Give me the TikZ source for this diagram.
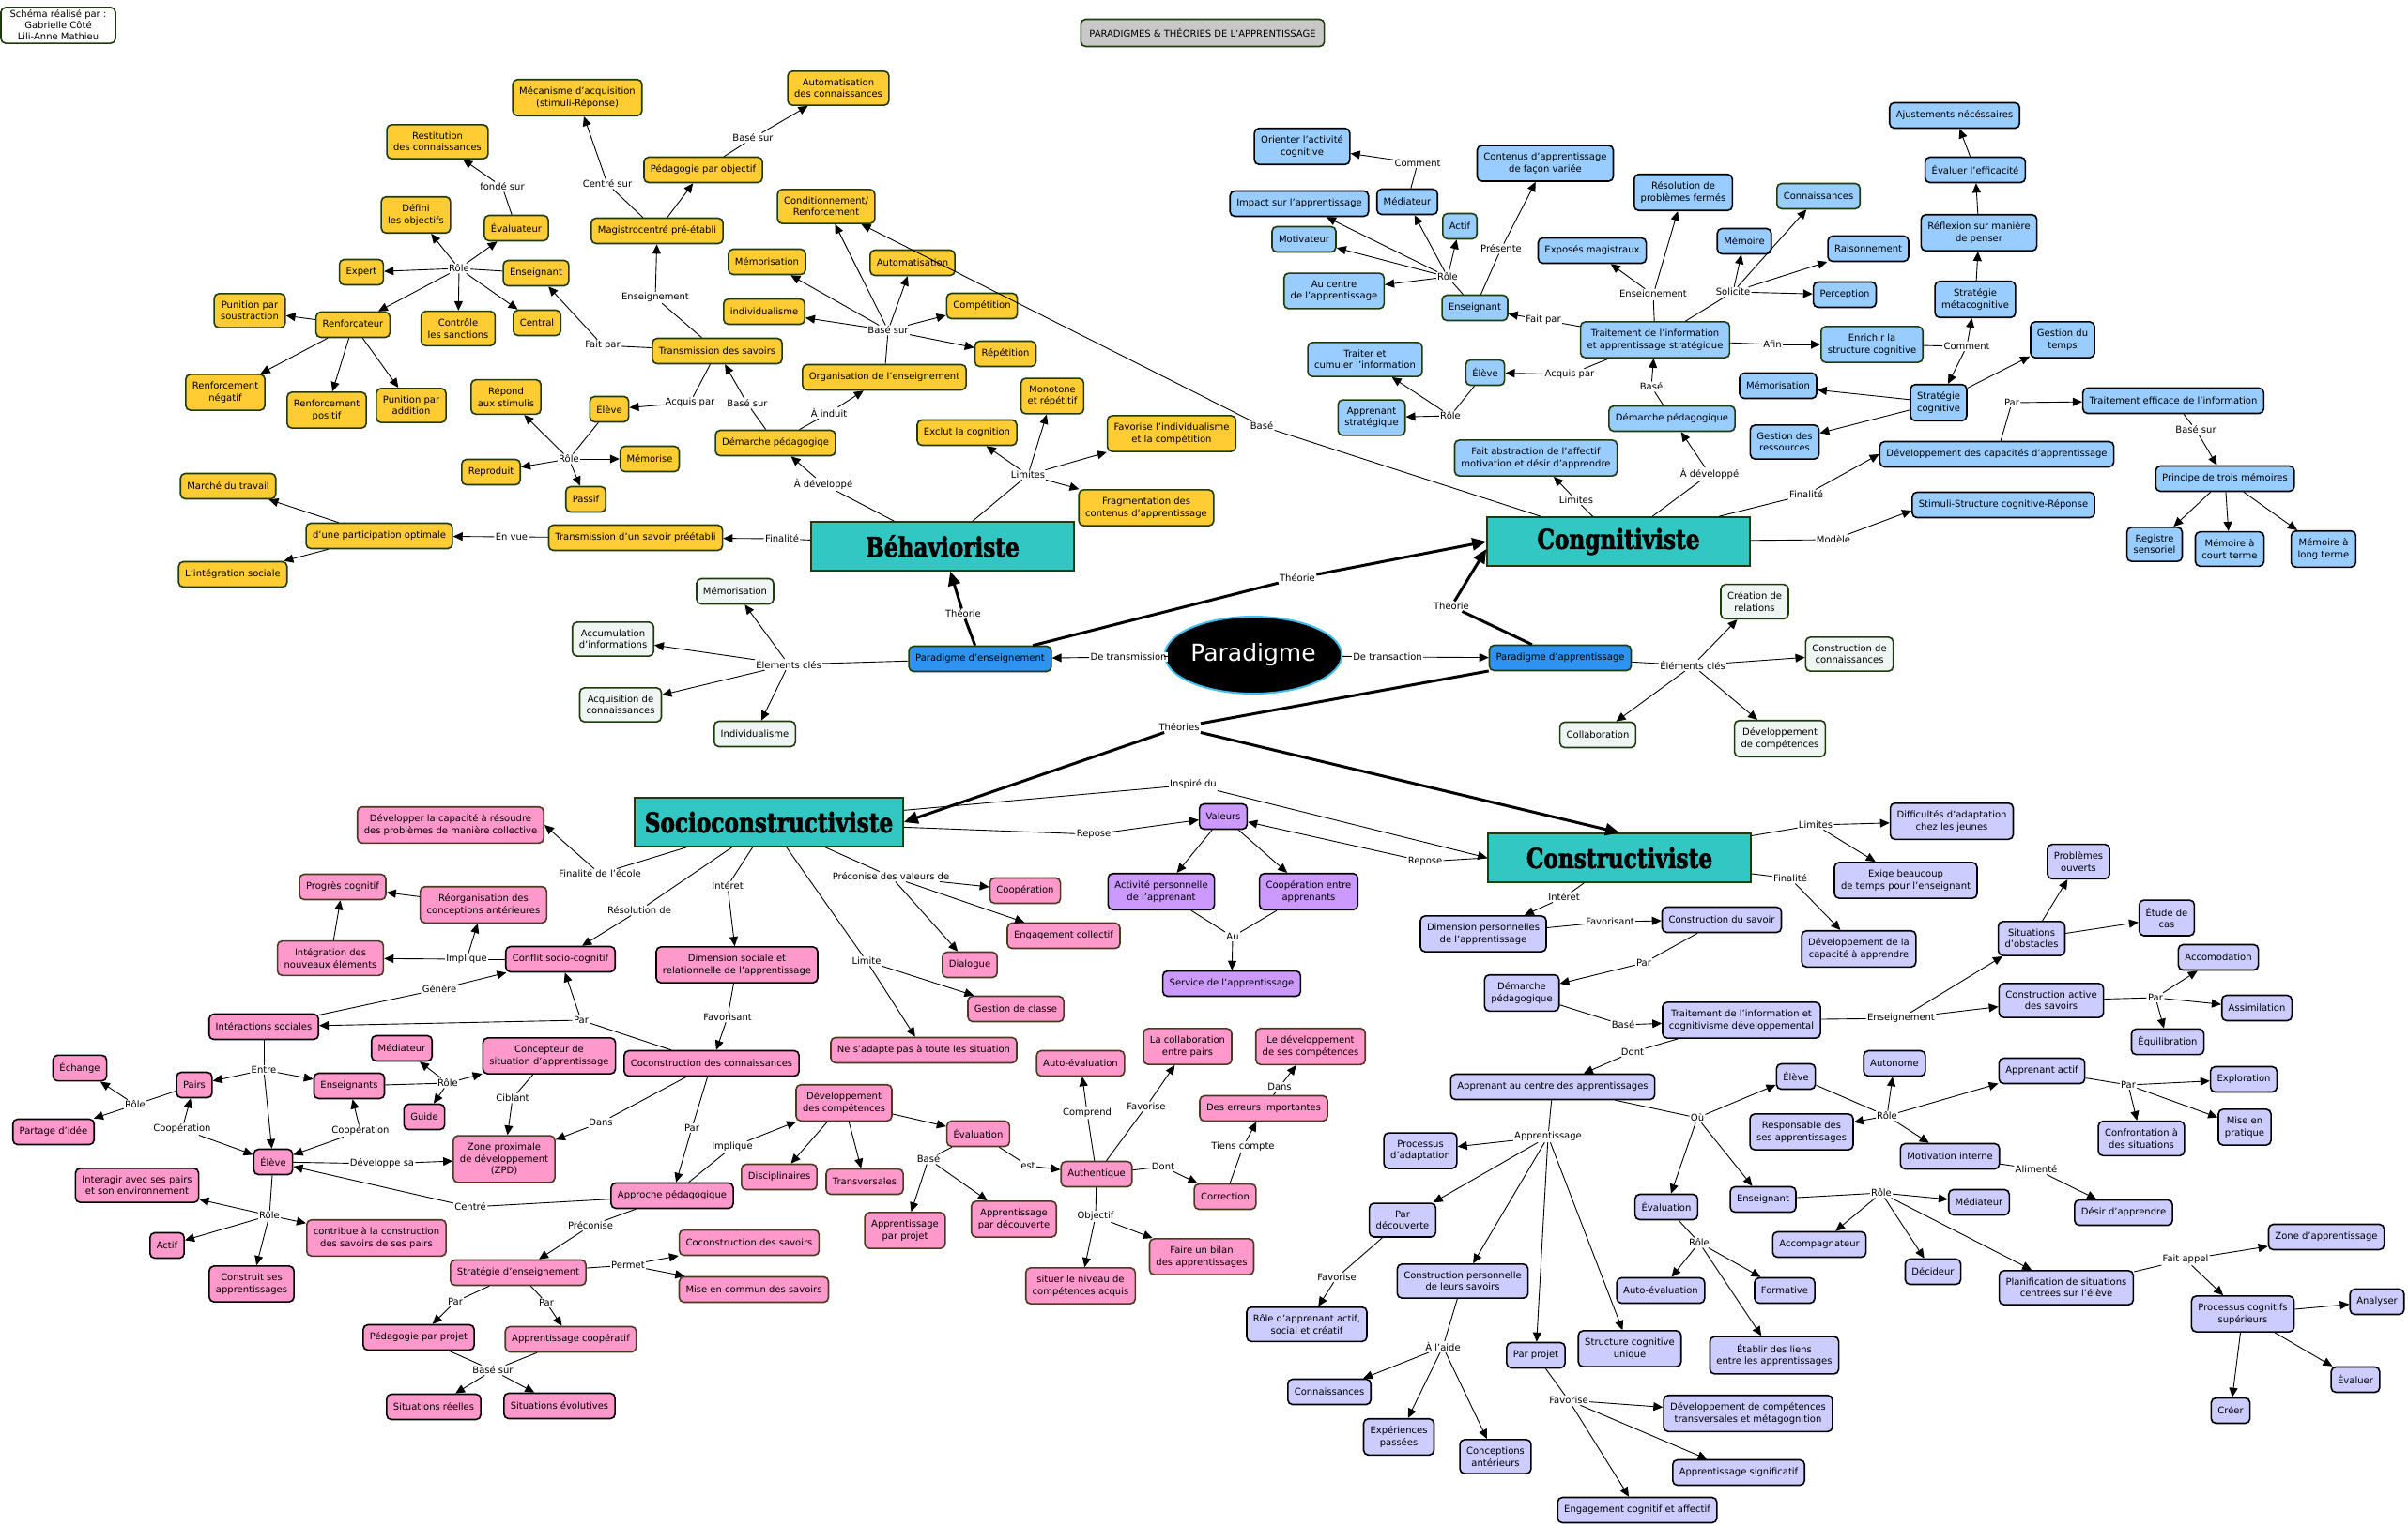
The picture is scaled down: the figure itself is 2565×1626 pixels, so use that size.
\documentclass[tikz,border=0pt]{standalone}
\usepackage{fontspec}
\usepackage{graphicx}
\setmainfont{DejaVu Sans}
\newfontfamily\tfont{DejaVu Serif}[BoldFeatures={FakeBold=2.5}]
\usetikzlibrary{arrows.meta,shapes.geometric}
\definecolor{yel}{HTML}{FFCC33}
\definecolor{dgr}{HTML}{1F3B0E}
\definecolor{lbl}{HTML}{99CCFF}
\definecolor{pnk}{HTML}{FF99CC}
\definecolor{pbr}{HTML}{4A3A22}
\definecolor{lav}{HTML}{CCCCFF}
\definecolor{pur}{HTML}{CC99FF}
\definecolor{pal}{HTML}{EEF5F2}
\definecolor{tea}{HTML}{33C7C4}
\definecolor{bltwo}{HTML}{2E93F0}
\definecolor{gry}{HTML}{C8C8C8}
\definecolor{cya}{HTML}{40BFF0}
\begin{document}
\begin{tikzpicture}[x=1pt,y=-1pt,
  bx/.style={rounded corners=5pt, draw, line width=1.6pt, align=center, inner xsep=7pt, inner ysep=8pt, minimum height=27pt, font=\fontsize{10}{12.5}\selectfont},
  Y/.style={bx, fill=yel, draw=dgr},
  B/.style={bx, fill=lbl, draw=black},
  BG/.style={bx, fill=lbl, draw=dgr},
  P/.style={bx, fill=pnk, draw=pbr},
  PK/.style={bx, fill=pnk, draw=black},
  V/.style={bx, fill=lav, draw=black},
  U/.style={bx, fill=pur, draw=black},
  G/.style={bx, fill=pal, draw=dgr},
  T/.style={draw=dgr, fill=tea, line width=1.6pt, minimum width=280pt, minimum height=52pt, inner sep=0pt, font=\tfont\bfseries\fontsize{29}{32}\selectfont},
  PB/.style={bx, fill=bltwo, draw=dgr},
  lb/.style={fill=white, inner sep=1.2pt, font=\fontsize{10}{12}\selectfont},
  ln/.style={draw=black, line width=0.9pt},
  ar/.style={ln, -{Triangle[length=10pt,width=9pt]}},
  tk/.style={draw=black, line width=3pt},
  tka/.style={tk, -{Triangle[length=15pt,width=13pt]}}
]
\fill[white] (0,0) rectangle (2565,1626);
\useasboundingbox (0,0) rectangle (2565,1626);

% ---------- misc ----------
\node[bx, fill=white, draw=dgr, inner ysep=3pt, minimum width=122pt, font=\fontsize{10}{12}\selectfont] (author) at (62,27) {Schéma réalisé par :\\Gabrielle Côté\\Lili-Anne Mathieu};
\node[bx, fill=gry, draw=dgr, minimum height=29pt, inner ysep=4pt, inner xsep=9pt, font=\fontsize{10}{12}\selectfont] (title) at (1281,35) {PARADIGMES \& THÉORIES DE L'APPRENTISSAGE};

% ---------- yellow ----------
\node[Y] (mec) at (615,104) {Mécanisme d'acquisition\\(stimuli-Réponse)};
\node[Y] (autc) at (893,94) {Automatisation\\des connaissances};
\node[Y] (resti) at (466,151) {Restitution\\des connaissances};
\node[Y] (pedobj) at (749,181) {Pédagogie par objectif};
\node[Y] (defobj) at (443,229) {Défini\\les objectifs};
\node[Y] (cond) at (880,220) {Conditionnement/\\Renforcement};
\node[Y] (evalr) at (550,243) {Évaluateur};
\node[Y] (magi) at (700,246) {Magistrocentré pré-établi};
\node[Y] (ymem) at (817,279) {Mémorisation};
\node[Y] (yauto) at (972,280) {Automatisation};
\node[Y] (expert) at (385,290) {Expert};
\node[Y] (yens) at (571,291) {Enseignant};
\node[Y] (yindiv) at (814,332) {individualisme};
\node[Y] (compet) at (1046,326) {Compétition};
\node[Y] (punsou) at (266,331) {Punition par\\soustraction};
\node[Y] (renf) at (376,346) {Renforçateur};
\node[Y] (ctrl) at (488,350) {Contrôle\\les sanctions};
\node[Y] (central) at (572,344) {Central};
\node[Y] (trans) at (764,374) {Transmission des savoirs};
\node[Y] (repet) at (1071,377) {Répétition};
\node[Y] (orga) at (942,402) {Organisation de l'enseignement};
\node[Y] (rneg) at (240,418) {Renforcement\\négatif};
\node[Y] (rpos) at (348,437) {Renforcement\\positif};
\node[Y] (punadd) at (438,432) {Punition par\\addition};
\node[Y] (repond) at (539,423) {Répond\\aux stimulis};
\node[Y] (yeleve) at (649,436) {Élève};
\node[Y] (monot) at (1121,422) {Monotone\\et répétitif};
\node[Y] (exclut) at (1030,461) {Exclut la cognition};
\node[Y] (favind) at (1248,462) {Favorise l'individualisme\\et la compétition};
\node[Y] (ydem) at (826,472) {Démarche pédagogiqe};
\node[Y] (memorise) at (692,489) {Mémorise};
\node[Y] (reprod) at (523,503) {Reproduit};
\node[Y] (passif) at (624,532) {Passif};
\node[Y] (marche) at (243,518) {Marché du travail};
\node[Y] (frag) at (1221,541) {Fragmentation des\\contenus d'apprentissage};
\node[Y] (partic) at (404,571) {d'une participation optimale};
\node[Y] (transp) at (677,573) {Transmission d'un savoir préétabli};
\node[Y] (integ) at (248,612) {L'intégration sociale};

% ---------- theories ----------
\node[T] (behav) at (1004,582) {\scalebox{0.8}[1]{Béhavioriste}};
\node[T] (cogn) at (1724,577) {\scalebox{0.8}[1]{Congnitiviste}};
\node[T, minimum width=286pt] (socio) at (819,876) {\scalebox{0.8}[1]{Socioconstructiviste}};
\node[T] (cons) at (1725,914) {\scalebox{0.8}[1]{Constructiviste}};

\node[ellipse, fill=black, draw=cya, line width=2pt, minimum width=162pt, minimum height=82pt, inner sep=0pt, text=white, font=\fontsize{25}{28}\selectfont] (para) at (1335,698) {Paradigme};
\node[PB] (pens) at (1044,702) {Paradigme d'enseignement};
\node[PB] (papp) at (1662,701) {Paradigme d'apprentissage};

% ---------- grey ----------
\node[G] (gmem) at (783,630) {Mémorisation};
\node[G] (accum) at (653,681) {Accumulation\\d'informations};
\node[G] (acqui) at (661,751) {Acquisition de\\connaissances};
\node[G] (gindiv) at (804,782) {Individualisme};
\node[G] (creat) at (1869,641) {Création de\\relations};
\node[G] (constc) at (1970,697) {Construction de\\connaissances};
\node[G] (collab) at (1702,783) {Collaboration};
\node[G] (devcomp) at (1896,787) {Développement\\de compétences};

% ---------- blue ----------
\node[B] (orient) at (1387,156) {Orienter l'activité\\cognitive};
\node[B] (contenus) at (1646,174) {Contenus d'apprentissage\\de façon variée};
\node[B] (resol) at (1793,205) {Résolution de\\problèmes fermés};
\node[BG] (bconn) at (1937,209) {Connaissances};
\node[B] (impact) at (1384,217) {Impact sur l'apprentissage};
\node[B] (bmed) at (1499,215) {Médiateur};
\node[BG] (bactif) at (1555,241) {Actif};
\node[BG] (motiv) at (1389,255) {Motivateur};
\node[B] (expos) at (1696,267) {Exposés magistraux};
\node[B] (bmemoire) at (1858,257) {Mémoire};
\node[B] (raison) at (1990,265) {Raisonnement};
\node[BG] (aucentre) at (1421,310) {Au centre\\de l'apprentissage};
\node[B] (percep) at (1965,314) {Perception};
\node[BG] (bens) at (1571,328) {Enseignant};
\node[BG] (tias) at (1763,362) {Traitement de l'information\\et apprentissage stratégique};
\node[BG] (enrich) at (1994,367) {Enrichir la\\structure cognitive};
\node[BG] (traiter) at (1454,383) {Traiter et\\cumuler l'information};
\node[BG] (beleve) at (1582,397) {Élève};
\node[B] (bmemor) at (1894,411) {Mémorisation};
\node[BG] (bdem) at (1781,446) {Démarche pédagogique};
\node[BG] (appstrat) at (1461,445) {Apprenant\\stratégique};
\node[B] (gestres) at (1901,471) {Gestion des\\ressources};
\node[BG] (abstr) at (1636,488) {Fait abstraction de l'affectif\\motivation et désir d'apprendre};
\node[B] (ajust) at (2082,123) {Ajustements nécéssaires};
\node[B] (evalef) at (2104,181) {Évaluer l'efficacité};
\node[B] (reflex) at (2108,248) {Réflexion sur manière\\de penser};
\node[B] (stratmeta) at (2104,319) {Stratégie\\métacognitive};
\node[B] (gesttemps) at (2197,362) {Gestion du\\temps};
\node[B] (stratcog) at (2065,429) {Stratégie\\cognitive};
\node[B] (traiteff) at (2315,427) {Traitement efficace de l'information};
\node[B] (devcap) at (2127,484) {Développement des capacités d'apprentissage};
\node[B] (princ) at (2370,510) {Principe de trois mémoires};
\node[B] (stimuli) at (2134,538) {Stimuli-Structure cognitive-Réponse};
\node[B] (regsens) at (2295,580) {Registre\\sensoriel};
\node[B] (memct) at (2375,585) {Mémoire à\\court terme};
\node[B] (memlt) at (2475,585) {Mémoire à\\long terme};

% ---------- lavender ----------
\node[V] (diffic) at (2079,875) {Difficultés d'adaptation\\chez les jeunes};
\node[V] (exige) at (2030,938) {Exige beaucoup\\de temps pour l'enseignant};
\node[V] (probouv) at (2214,918) {Problèmes\\ouverts};
\node[V] (etude) at (2308,978) {Étude de\\cas};
\node[V] (dimpers) at (1580,995) {Dimension personnelles\\de l'apprentissage};
\node[V] (constsav) at (1834,980) {Construction du savoir};
\node[V] (situobs) at (2164,1000) {Situations\\d'obstacles};
\node[V] (devcapapp) at (1980,1011) {Développement de la\\capacité à apprendre};
\node[V] (accom) at (2363,1020) {Accomodation};
\node[V] (ldem) at (1621,1058) {Démarche\\pédagogique};
\node[V] (constact) at (2185,1066) {Construction active\\des savoirs};
\node[V] (assim) at (2404,1074) {Assimilation};
\node[V] (ticd) at (1855,1087) {Traitement de l'information et\\cognitivisme développemental};
\node[V] (equil) at (2309,1110) {Équilibration};
\node[V] (auton) at (2018,1133) {Autonome};
\node[V] (appactif) at (2175,1141) {Apprenant actif};
\node[V] (explor) at (2390,1150) {Exploration};
\node[V] (leleve) at (1913,1147) {Élève};
\node[V] (appcentre) at (1654,1158) {Apprenant au centre des apprentissages};
\node[V] (respons) at (1919,1206) {Responsable des\\ses apprentissages};
\node[V] (confront) at (2281,1213) {Confrontation à\\des situations};
\node[V] (mise) at (2391,1201) {Mise en\\pratique};
\node[V] (procad) at (1513,1226) {Processus\\d'adaptation};
\node[V] (motint) at (2077,1232) {Motivation interne};
\node[V] (leval) at (1775,1286) {Évaluation};
\node[V] (lens) at (1878,1278) {Enseignant};
\node[V] (lmed) at (2108,1281) {Médiateur};
\node[V] (desir) at (2262,1292) {Désir d'apprendre};
\node[V] (pardec) at (1494,1300) {Par\\découverte};
\node[V] (accomp) at (1938,1326) {Accompagnateur};
\node[V] (zoneapp) at (2478,1318) {Zone d'apprentissage};
\node[V] (decid) at (2059,1355) {Décideur};
\node[V] (planif) at (2201,1372) {Planification de situations\\centrées sur l'élève};
\node[V] (constpers) at (1558,1365) {Construction personnelle\\de leurs savoirs};
\node[V] (lautoev) at (1769,1375) {Auto-évaluation};
\node[V] (format) at (1901,1375) {Formative};
\node[V] (proccog) at (2389,1400) {Processus cognitifs\\supérieurs};
\node[V] (analys) at (2532,1387) {Analyser};
\node[V] (roleapp) at (1392,1411) {Rôle d'apprenant actif,\\social et créatif};
\node[V] (struccog) at (1736,1437) {Structure cognitive\\unique};
\node[V] (etablir) at (1890,1444) {Établir des liens\\entre les apprentissages};
\node[V] (parproj) at (1636,1444) {Par projet};
\node[V] (evaluer) at (2509,1470) {Évaluer};
\node[V] (lconn) at (1416,1483) {Connaissances};
\node[V] (creer) at (2376,1503) {Créer};
\node[V] (devtrans) at (1862,1506) {Développement de compétences\\transversales et métagognition};
\node[V] (expe) at (1490,1531) {Expériences\\passées};
\node[V] (concant) at (1593,1552) {Conceptions\\antérieurs};
\node[V] (appsig) at (1852,1569) {Apprentissage significatif};
\node[V] (engag) at (1744,1609) {Engagement cognitif et affectif};

% ---------- purple ----------
\node[U] (valeurs) at (1303,870) {Valeurs};
\node[U] (actpers) at (1237,950) {Activité personnelle\\de l'apprenant};
\node[U] (coopapp) at (1394,950) {Coopération entre\\apprenants};
\node[U] (service) at (1312,1048) {Service de l'apprentissage};

% ---------- pink ----------
\node[P] (devres) at (480,879) {Développer la capacité à résoudre\\des problèmes de manière collective};
\node[P] (progres) at (365,945) {Progrès cognitif};
\node[P] (reorg) at (515,964) {Réorganisation des\\conceptions antérieures};
\node[P] (integr) at (352,1021) {Intégration des\\nouveaux éléments};
\node[PK] (conflit) at (597,1022) {Conflit socio-cognitif};
\node[P] (pcoop) at (1092,949) {Coopération};
\node[P] (engcol) at (1133,997) {Engagement collectif};
\node[PK] (dimsoc) at (785,1028) {Dimension sociale et\\relationnelle de l'apprentissage};
\node[P] (dialog) at (1033,1028) {Dialogue};
\node[P] (gestcl) at (1082,1075) {Gestion de classe};
\node[PK] (inter) at (281,1094) {Intéractions sociales};
\node[P] (ladapt) at (984,1119) {Ne s'adapte pas à toute les situation};
\node[PK] (cocon) at (758,1133) {Coconstruction des connaissances};
\node[P] (pautoev) at (1151,1133) {Auto-évaluation};
\node[P] (collabp) at (1265,1115) {La collaboration\\entre pairs};
\node[P] (devsescomp) at (1396,1115) {Le développement\\de ses compétences};
\node[PK] (pmed) at (428,1117) {Médiateur};
\node[PK] (concep) at (585,1125) {Concepteur de\\situation d'apprentissage};
\node[PK] (echange) at (85,1138) {Échange};
\node[PK] (pairs) at (207,1156) {Pairs};
\node[PK] (pens2) at (372,1157) {Enseignants};
\node[PK] (guide) at (452,1190) {Guide};
\node[PK] (partage) at (57,1206) {Partage d'idée};
\node[P] (pdevcomp) at (899,1175) {Développement\\des compétences};
\node[P] (erreurs) at (1346,1181) {Des erreurs importantes};
\node[P] (peval) at (1042,1208) {Évaluation};
\node[PK] (peleve) at (291,1238) {Élève};
\node[P] (zpd) at (537,1235) {Zone proximale\\de développement\\(ZPD)};
\node[P] (authen) at (1168,1251) {Authentique};
\node[P] (discip) at (830,1254) {Disciplinaires};
\node[P] (transv) at (921,1259) {Transversales};
\node[PK] (interag) at (146,1263) {Interagir avec ses pairs\\et son environnement};
\node[PK] (approche) at (716,1274) {Approche pédagogique};
\node[P] (correc) at (1305,1275) {Correction};
\node[P] (appproj) at (964,1311) {Apprentissage\\par projet};
\node[P] (appdec) at (1080,1299) {Apprentissage\\par découverte};
\node[PK] (pactif) at (178,1327) {Actif};
\node[P] (contrib) at (401,1319) {contribue à la construction\\des savoirs de ses pairs};
\node[P] (bilan) at (1280,1339) {Faire un bilan\\des apprentissages};
\node[P] (strat) at (552,1356) {Stratégie d'enseignement};
\node[P] (cocsav) at (798,1324) {Coconstruction des savoirs};
\node[PK] (construit) at (268,1368) {Construit ses\\apprentissages};
\node[P] (situer) at (1151,1370) {situer le niveau de\\compétences acquis};
\node[P] (misec) at (803,1374) {Mise en commun des savoirs};
\node[PK] (pedproj) at (446,1425) {Pédagogie par projet};
\node[P] (appcoop) at (608,1427) {Apprentissage coopératif};
\node[PK] (sitreel) at (462,1499) {Situations réelles};
\node[PK] (sitevol) at (596,1498) {Situations évolutives};

% ---------- labels ----------
\node[lb] (Lfonde) at (535,199) {fondé sur};
\node[lb] (Lcentre) at (647,196) {Centré sur};
\node[lb] (Lbase1) at (802,147) {Basé sur};
\node[lb] (Lrole1) at (489,286) {Rôle};
\node[lb] (Lens1) at (698,317) {Enseignement};
\node[lb] (Lbase2) at (946,352) {Basé sur};
\node[lb] (Lfaitpar1) at (642,368) {Fait par};
\node[lb] (Lacq1) at (735,429) {Acquis par};
\node[lb] (Lbase3) at (796,430) {Basé sur};
\node[lb] (Linduit) at (883,440) {À induit};
\node[lb] (Lrole2) at (606,489) {Rôle};
\node[lb] (Llim1) at (1095,506) {Limites};
\node[lb] (Ldev1) at (877,516) {À développé};
\node[lb] (Lenvue) at (545,572) {En vue};
\node[lb] (Lfin1) at (833,574) {Finalité};
\node[lb] (Ltheo1) at (1026,654) {Théorie};
\node[lb] (Ltrans) at (1202,700) {De transmission};
\node[lb] (Lelem1) at (840,708) {Élements clés};
\node[lb] (Ltheo2) at (1382,616) {Théorie};
\node[lb] (Ltheo3) at (1546,646) {Théorie};
\node[lb] (Ltransac) at (1478,700) {De transaction};
\node[lb] (Lelem2) at (1803,709) {Éléments clés};
\node[lb] (Ltheos) at (1256,775) {Théories};
\node[lb] (Lcomment1) at (1510,174) {Comment};
\node[lb] (Lpresente) at (1599,265) {Présente};
\node[lb] (Lrole3) at (1542,295) {Rôle};
\node[lb] (Lens2) at (1761,314) {Enseignement};
\node[lb] (Lsolic) at (1846,311) {Solicite};
\node[lb] (Lfaitpar2) at (1644,341) {Fait par};
\node[lb] (Lafin) at (1888,367) {Afin};
\node[lb] (Lcomment2) at (2095,369) {Comment};
\node[lb] (Lacq2) at (1672,399) {Acquis par};
\node[lb] (Lbase4) at (1759,412) {Basé};
\node[lb] (Lrole4) at (1545,443) {Rôle};
\node[lb] (Lbase5) at (1344,454) {Basé};
\node[lb] (Ldev2) at (1821,505) {À développé};
\node[lb] (Llim2) at (1679,533) {Limites};
\node[lb] (Lfin2) at (1924,527) {Finalité};
\node[lb] (Lpar1) at (2143,429) {Par};
\node[lb] (Lbase6) at (2339,458) {Basé sur};
\node[lb] (Lmodele) at (1953,575) {Modèle};
\node[lb] (Linspire) at (1271,836) {Inspiré du};
\node[lb] (Lrepose1) at (1165,889) {Repose};
\node[lb] (Lrepose2) at (1518,918) {Repose};
\node[lb] (Lau) at (1313,998) {Au};
\node[lb] (Lfinecole) at (639,931) {Finalité de l'école};
\node[lb] (Lpreco) at (949,934) {Préconise des valeurs de};
\node[lb] (Linteret1) at (775,944) {Intéret};
\node[lb] (Lresol) at (681,970) {Résolution de};
\node[lb] (Llimite) at (923,1024) {Limite};
\node[lb] (Limplique1) at (497,1022) {Implique};
\node[lb] (Lgenere) at (468,1054) {Génére};
\node[lb] (Lfavor1) at (775,1084) {Favorisant};
\node[lb] (Lpar2) at (619,1087) {Par};
\node[lb] (Lentre) at (281,1140) {Entre};
\node[lb] (Lrole5) at (477,1154) {Rôle};
\node[lb] (Lrole6) at (144,1177) {Rôle};
\node[lb] (Lciblant) at (546,1170) {Ciblant};
\node[lb] (Ldans1) at (640,1196) {Dans};
\node[lb] (Lcoop1) at (194,1203) {Coopération};
\node[lb] (Lcoop2) at (384,1205) {Coopération};
\node[lb] (Ldevsa) at (407,1240) {Développe sa};
\node[lb] (Lcentre2) at (501,1286) {Centré};
\node[lb] (Lrole7) at (287,1295) {Rôle};
\node[lb] (Lpar3) at (737,1202) {Par};
\node[lb] (Limplique2) at (780,1222) {Implique};
\node[lb] (Lpreco2) at (629,1306) {Préconise};
\node[lb] (Lpermet) at (669,1348) {Permet};
\node[lb] (Lpar4) at (485,1387) {Par};
\node[lb] (Lpar5) at (582,1388) {Par};
\node[lb] (Lbase7) at (525,1460) {Basé sur};
\node[lb] (Lbase8) at (989,1235) {Basé};
\node[lb] (Lest) at (1095,1242) {est};
\node[lb] (Lcomprend) at (1158,1186) {Comprend};
\node[lb] (Lfavor2) at (1221,1179) {Favorise};
\node[lb] (Ldont1) at (1239,1243) {Dont};
\node[lb] (Lobjectif) at (1167,1296) {Objectif};
\node[lb] (Ltiens) at (1324,1222) {Tiens compte};
\node[lb] (Ldans2) at (1363,1158) {Dans};
\node[lb] (Llim3) at (1934,879) {Limites};
\node[lb] (Lfin3) at (1907,936) {Finalité};
\node[lb] (Linteret2) at (1666,956) {Intéret};
\node[lb] (Lfavor3) at (1715,982) {Favorisant};
\node[lb] (Lpar6) at (1751,1026) {Par};
\node[lb] (Lbase9) at (1729,1092) {Basé};
\node[lb] (Lens3) at (2025,1085) {Enseignement};
\node[lb] (Lpar7) at (2296,1063) {Par};
\node[lb] (Ldont2) at (1739,1121) {Dont};
\node[lb] (Lou) at (1808,1191) {Où};
\node[lb] (Lappr) at (1649,1211) {Apprentissage};
\node[lb] (Lrole8) at (2010,1189) {Rôle};
\node[lb] (Lpar8) at (2267,1156) {Par};
\node[lb] (Lalim) at (2169,1246) {Alimenté};
\node[lb] (Lrole9) at (2004,1271) {Rôle};
\node[lb] (Lrole10) at (1810,1324) {Rôle};
\node[lb] (Lfaitappel) at (2328,1342) {Fait appel};
\node[lb] (Lfavor4) at (1424,1361) {Favorise};
\node[lb] (Laide) at (1537,1435) {À l'aide};
\node[lb] (Lfavor5) at (1671,1492) {Favorise};

% ---------- behaviorist edges ----------
\draw[ln] (behav) -- (Ldev1); \draw[ar] (Ldev1) -- (ydem);
\draw[ln] (behav) -- (Llim1); \foreach \x in {exclut,monot,favind,frag} \draw[ar] (Llim1) -- (\x);
\draw[ln] (behav) -- (Lfin1); \draw[ar] (Lfin1) -- (transp);
\draw[ln] (transp) -- (Lenvue); \draw[ar] (Lenvue) -- (partic);
\draw[ar] (partic) -- (marche); \draw[ar] (partic) -- (integ);
\draw[ln] (ydem) -- (Lbase3); \draw[ar] (Lbase3) -- (trans);
\draw[ln] (ydem) -- (Linduit); \draw[ar] (Linduit) -- (orga);
\draw[ln] (orga) -- (Lbase2); \foreach \x in {ymem,yindiv,cond,yauto,compet,repet} \draw[ar] (Lbase2) -- (\x);
\draw[ln] (trans) -- (Lens1); \draw[ar] (Lens1) -- (magi);
\draw[ln] (trans) -- (Lacq1); \draw[ar] (Lacq1) -- (yeleve);
\draw[ln] (trans) -- (Lfaitpar1); \draw[ar] (Lfaitpar1) -- (yens);
\draw[ln] (magi) -- (Lcentre); \draw[ar] (Lcentre) -- (mec);
\draw[ar] (magi) -- (pedobj);
\draw[ln] (pedobj) -- (Lbase1); \draw[ar] (Lbase1) -- (autc);
\draw[ln] (yens) -- (Lrole1); \foreach \x in {defobj,evalr,expert,renf,ctrl,central} \draw[ar] (Lrole1) -- (\x);
\draw[ln] (evalr) -- (Lfonde); \draw[ar] (Lfonde) -- (resti);
\foreach \x in {punsou,rneg,rpos,punadd} \draw[ar] (renf) -- (\x);
\draw[ln] (yeleve) -- (Lrole2); \foreach \x in {repond,memorise,reprod,passif} \draw[ar] (Lrole2) -- (\x);

% ---------- paradigm edges ----------
\draw[ln] (para) -- (Ltrans); \draw[ar] (Ltrans) -- (pens);
\draw[ln] (para) -- (Ltransac); \draw[ar] (Ltransac) -- (papp);
\draw[tk] (pens) -- (Ltheo1); \draw[tka] (Ltheo1) -- (behav);
\draw[tk] (pens) -- (Ltheo2); \draw[tka] (Ltheo2) -- (cogn.west);
\draw[tk] (papp) -- (Ltheo3); \draw[tka] (Ltheo3) -- ([yshift=-8pt]cogn.west);
\draw[tk] (papp) -- (Ltheos); \draw[tka] (Ltheos) -- (socio.east); \draw[tka] (Ltheos) -- (cons.north);
\draw[ln] (pens) -- (Lelem1); \foreach \x in {gmem,accum,acqui,gindiv} \draw[ar] (Lelem1) -- (\x);
\draw[ln] (papp) -- (Lelem2); \foreach \x in {creat,constc,collab,devcomp} \draw[ar] (Lelem2) -- (\x);

% ---------- cognitivist edges ----------
\draw[ln] (cogn) -- (Lbase5); \draw[ar] (Lbase5) -- (cond);
\draw[ln] (cogn) -- (Llim2); \draw[ar] (Llim2) -- (abstr);
\draw[ln] (cogn) -- (Ldev2); \draw[ar] (Ldev2) -- (bdem);
\draw[ln] (cogn) -- (Lfin2); \draw[ar] (Lfin2) -- (devcap.west);
\draw[ln] (cogn) -- (Lmodele); \draw[ar] (Lmodele) -- ([yshift=-6pt]stimuli.west);
\draw[ln] (devcap) -- (Lpar1); \draw[ar] (Lpar1) -- (traiteff);
\draw[ln] (traiteff) -- (Lbase6); \draw[ar] (Lbase6) -- (princ);
\foreach \x in {regsens,memct,memlt} \draw[ar] (princ) -- (\x);
\draw[ln] (bdem) -- (Lbase4); \draw[ar] (Lbase4) -- (tias);
\draw[ln] (tias) -- (Lfaitpar2); \draw[ar] (Lfaitpar2) -- (bens);
\draw[ln] (tias) -- (Lacq2); \draw[ar] (Lacq2) -- (beleve);
\draw[ln] (tias) -- (Lens2); \foreach \x in {expos,resol} \draw[ar] (Lens2) -- (\x);
\draw[ln] (tias) -- (Lsolic); \foreach \x in {bmemoire,bconn,raison,percep} \draw[ar] (Lsolic) -- (\x);
\draw[ln] (tias) -- (Lafin); \draw[ar] (Lafin) -- (enrich);
\draw[ln] (enrich) -- (Lcomment2); \foreach \x in {stratmeta,stratcog} \draw[ar] (Lcomment2) -- (\x);
\draw[ar] (stratmeta) -- (reflex); \draw[ar] (reflex) -- (evalef); \draw[ar] (evalef) -- (ajust);
\foreach \x in {gesttemps,bmemor,gestres} \draw[ar] (stratcog) -- (\x);
\draw[ln] (bens) -- (Lrole3); \foreach \x in {impact,motiv,aucentre,bmed,bactif} \draw[ar] (Lrole3) -- (\x);
\draw[ln] (bmed) -- (Lcomment1); \draw[ar] (Lcomment1) -- (orient);
\draw[ln] (bens) -- (Lpresente); \draw[ar] (Lpresente) -- (contenus);
\draw[ln] (beleve) -- (Lrole4); \foreach \x in {traiter,appstrat} \draw[ar] (Lrole4) -- (\x);

% ---------- socioconstructivist edges ----------
\draw[ln] (socio) -- (Lfinecole); \draw[ar] (Lfinecole) -- (devres.east);
\draw[ln] (socio) -- (Lresol); \draw[ar] (Lresol) -- (conflit);
\draw[ln] (socio) -- (Linteret1); \draw[ar] (Linteret1) -- (dimsoc);
\draw[ln] (socio) -- (Llimite); \foreach \x in {gestcl,ladapt} \draw[ar] (Llimite) -- (\x);
\draw[ln] (socio) -- (Lpreco); \foreach \x in {pcoop,engcol,dialog} \draw[ar] (Lpreco) -- (\x);
\draw[ln] (socio) -- (Lrepose1); \draw[ar] (Lrepose1) -- (valeurs);
\draw[ln] (socio) -- (Linspire); \draw[ar] (Linspire) -- (cons.west);
\draw[ln] (cons.west) -- (Lrepose2); \draw[ar] (Lrepose2) -- (valeurs);
\foreach \x in {actpers,coopapp} \draw[ar] (valeurs) -- (\x);
\foreach \x in {actpers,coopapp} \draw[ln] (\x) -- (Lau);
\draw[ar] (Lau) -- (service);
\draw[ln] (dimsoc) -- (Lfavor1); \draw[ar] (Lfavor1) -- (cocon);
\draw[ln] (cocon) -- (Lpar3); \draw[ar] (Lpar3) -- (approche);
\draw[ln] (cocon) -- (Ldans1); \draw[ar] (Ldans1) -- (zpd);
\draw[ln] (cocon) -- (Lpar2); \foreach \x in {inter,conflit} \draw[ar] (Lpar2) -- (\x);
\draw[ln] (inter) -- (Lgenere); \draw[ar] (Lgenere) -- (conflit);
\draw[ln] (conflit) -- (Limplique1); \foreach \x in {integr,reorg} \draw[ar] (Limplique1) -- (\x);
\draw[ar] (integr) -- (progres); \draw[ar] (reorg) -- (progres);
\draw[ln] (inter) -- (Lentre); \foreach \x in {pairs,pens2,peleve} \draw[ar] (Lentre) -- (\x);
\draw[ln] (pairs) -- (Lrole6); \foreach \x in {echange,partage} \draw[ar] (Lrole6) -- (\x);
\foreach \x in {pairs,peleve} \draw[ar] (Lcoop1) -- (\x);
\foreach \x in {pens2,peleve} \draw[ar] (Lcoop2) -- (\x);
\draw[ln] (pens2) -- (Lrole5); \foreach \x in {pmed,concep,guide} \draw[ar] (Lrole5) -- (\x);
\draw[ln] (concep) -- (Lciblant); \draw[ar] (Lciblant) -- (zpd);
\draw[ln] (peleve) -- (Ldevsa); \draw[ar] (Ldevsa) -- (zpd);
\draw[ln] (peleve) -- (Lrole7); \foreach \x in {interag,pactif,contrib,construit} \draw[ar] (Lrole7) -- (\x);
\draw[ln] (approche) -- (Lcentre2); \draw[ar] (Lcentre2) -- (peleve);
\draw[ln] (approche) -- (Limplique2); \draw[ar] (Limplique2) -- (pdevcomp);
\draw[ln] (approche) -- (Lpreco2); \draw[ar] (Lpreco2) -- (strat);
\draw[ln] (strat) -- (Lpermet); \foreach \x in {cocsav,misec} \draw[ar] (Lpermet) -- (\x);
\draw[ln] (strat) -- (Lpar4); \draw[ar] (Lpar4) -- (pedproj);
\draw[ln] (strat) -- (Lpar5); \draw[ar] (Lpar5) -- (appcoop);
\foreach \x in {pedproj,appcoop} \draw[ln] (\x) -- (Lbase7);
\foreach \x in {sitreel,sitevol} \draw[ar] (Lbase7) -- (\x);
\foreach \x in {discip,transv,peval} \draw[ar] (pdevcomp) -- (\x);
\draw[ln] (peval) -- (Lbase8); \foreach \x in {appproj,appdec} \draw[ar] (Lbase8) -- (\x);
\draw[ln] (peval) -- (Lest); \draw[ar] (Lest) -- (authen);
\draw[ln] (authen) -- (Lcomprend); \draw[ar] (Lcomprend) -- (pautoev);
\draw[ln] (authen) -- (Lfavor2); \draw[ar] (Lfavor2) -- (collabp);
\draw[ln] (authen) -- (Ldont1); \draw[ar] (Ldont1) -- (correc);
\draw[ln] (authen) -- (Lobjectif); \foreach \x in {situer,bilan} \draw[ar] (Lobjectif) -- (\x);
\draw[ln] (correc) -- (Ltiens); \draw[ar] (Ltiens) -- (erreurs);
\draw[ln] (erreurs) -- (Ldans2); \draw[ar] (Ldans2) -- (devsescomp);

% ---------- constructivist edges ----------
\draw[ln] (cons) -- (Llim3); \foreach \x in {diffic,exige} \draw[ar] (Llim3) -- (\x);
\draw[ln] (cons) -- (Lfin3); \draw[ar] (Lfin3) -- (devcapapp);
\draw[ln] (cons) -- (Linteret2); \draw[ar] (Linteret2) -- (dimpers);
\draw[ln] (dimpers) -- (Lfavor3); \draw[ar] (Lfavor3) -- (constsav);
\draw[ln] (constsav) -- (Lpar6); \draw[ar] (Lpar6) -- (ldem);
\draw[ln] (ldem) -- (Lbase9); \draw[ar] (Lbase9) -- (ticd);
\draw[ln] (ticd) -- (Lens3); \foreach \x in {situobs,constact} \draw[ar] (Lens3) -- (\x);
\foreach \x in {probouv,etude} \draw[ar] (situobs) -- (\x);
\draw[ln] (constact) -- (Lpar7); \foreach \x in {accom,assim,equil} \draw[ar] (Lpar7) -- (\x);
\draw[ln] (ticd) -- (Ldont2); \draw[ar] (Ldont2) -- (appcentre);
\draw[ln] (appcentre) -- (Lappr); \foreach \x in {procad,pardec,constpers,parproj,struccog} \draw[ar] (Lappr) -- (\x);
\draw[ln] (appcentre) -- (Lou); \foreach \x in {leleve,leval,lens} \draw[ar] (Lou) -- (\x);
\draw[ln] (pardec) -- (Lfavor4); \draw[ar] (Lfavor4) -- (roleapp);
\draw[ln] (constpers) -- (Laide); \foreach \x in {lconn,expe,concant} \draw[ar] (Laide) -- (\x);
\draw[ln] (parproj) -- (Lfavor5); \foreach \x in {devtrans,appsig,engag} \draw[ar] (Lfavor5) -- (\x);
\draw[ln] (leval) -- (Lrole10); \foreach \x in {lautoev,format,etablir} \draw[ar] (Lrole10) -- (\x);
\draw[ln] (leleve) -- (Lrole8); \foreach \x in {auton,appactif,respons,motint} \draw[ar] (Lrole8) -- (\x);
\draw[ln] (appactif) -- (Lpar8); \foreach \x in {explor,confront,mise} \draw[ar] (Lpar8) -- (\x);
\draw[ln] (motint) -- (Lalim); \draw[ar] (Lalim) -- (desir);
\draw[ln] (lens) -- (Lrole9); \foreach \x in {lmed,accomp,decid,planif} \draw[ar] (Lrole9) -- (\x);
\draw[ln] (planif) -- (Lfaitappel); \foreach \x in {zoneapp,proccog} \draw[ar] (Lfaitappel) -- (\x);
\foreach \x in {analys,evaluer,creer} \draw[ar] (proccog) -- (\x);
\end{tikzpicture}
\end{document}
